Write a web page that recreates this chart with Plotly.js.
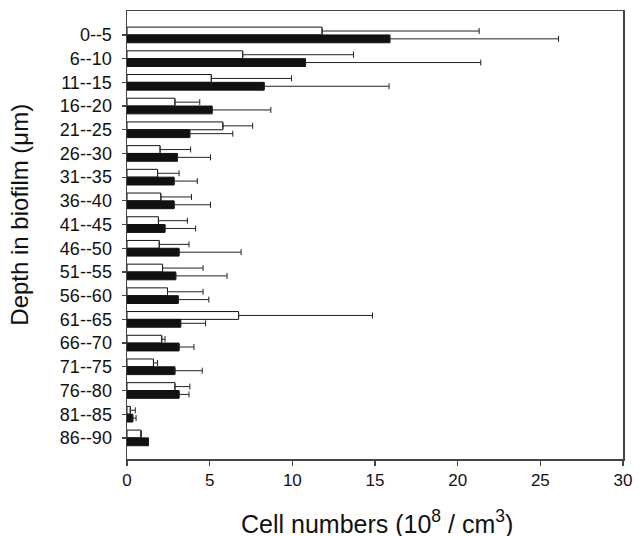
<!DOCTYPE html>
<html>
<head>
<meta charset="utf-8">
<script src="https://cdn.plot.ly/plotly-3.0.1.min.js"></script>
<style>html,body{margin:0;padding:0;background:#fff;}#chart{width:643px;height:536px;}</style>
</head>
<body>
<div id="chart"></div>
<script>
const categories = ["0--5","6--10","11--15","16--20","21--25","26--30","31--35","36--40","41--45","46--50","51--55","56--60","61--65","66--70","71--75","76--80","81--85","86--90"];
const whiteValues = [11.8, 7.0, 5.1, 2.9, 5.8, 2.0, 1.85, 2.05, 1.9, 1.95, 2.15, 2.45, 6.75, 2.1, 1.6, 2.9, 0.2, 0.85];
const whiteErrors = [9.5, 6.7, 4.85, 1.5, 1.8, 1.85, 1.3, 1.85, 1.75, 1.8, 2.45, 2.15, 8.1, 0.2, 0.25, 0.9, 0.3, 0];
const blackValues = [15.9, 10.8, 8.3, 5.15, 3.8, 3.05, 2.85, 2.85, 2.3, 3.15, 2.95, 3.1, 3.25, 3.15, 2.9, 3.15, 0.35, 1.3];
const blackErrors = [10.2, 10.6, 7.55, 3.55, 2.6, 2.0, 1.4, 2.2, 1.85, 3.75, 3.1, 1.85, 1.5, 0.9, 1.65, 0.6, 0.2, 0];
const xTicks = [0, 5, 10, 15, 20, 25, 30];
const xTitle = 'Cell numbers (10<sup>8</sup> / cm<sup>3</sup>)';
const yTitle = 'Depth in biofilm (μm)';

const ypos = categories.map((_, i) => i);
const zeros = categories.map(() => 0);

const traces = [
  {
    type: 'bar', orientation: 'h', y: ypos, x: whiteValues,
    marker: {color: '#ffffff', line: {color: '#111', width: 1}},
    error_x: {type: 'data', symmetric: false, array: whiteErrors, arrayminus: zeros, color: '#222', thickness: 1, width: 3},
    hoverinfo: 'x'
  },
  {
    type: 'bar', orientation: 'h', y: ypos, x: blackValues,
    marker: {color: '#111111', line: {color: '#111', width: 1}},
    error_x: {type: 'data', symmetric: false, array: blackErrors, arrayminus: zeros, color: '#222', thickness: 1, width: 3},
    hoverinfo: 'x'
  }
];

const layout = {
  width: 643, height: 536,
  margin: {l: 127, r: 20, t: 11, b: 77},
  paper_bgcolor: '#fff', plot_bgcolor: '#fff',
  showlegend: false,
  barmode: 'group', bargap: 0.34, bargroupgap: 0,
  font: {family: 'Liberation Sans, Arial, sans-serif', color: '#111'},
  xaxis: {
    range: [0, 30], tickvals: xTicks, ticktext: xTicks.map(String),
    showgrid: false, zeroline: false,
    showline: true, linecolor: '#444', linewidth: 1.5, mirror: true,
    ticks: 'outside', ticklen: 5, tickwidth: 1.2, tickcolor: '#444',
    tickfont: {size: 17, color: '#111'},
    fixedrange: true
  },
  yaxis: {
    range: [17.89, -1.01], tickvals: ypos, ticktext: categories,
    showgrid: false, zeroline: false,
    showline: true, linecolor: '#444', linewidth: 1.5, mirror: true,
    ticks: 'outside', ticklen: 4, tickwidth: 1.2, tickcolor: '#444',
    ticklabelstandoff: 6,
    tickfont: {size: 18, color: '#111'},
    fixedrange: true
  },
  annotations: [
    {
      text: xTitle, xref: 'paper', yref: 'paper',
      x: 0.505, y: -0.14, xanchor: 'center', yanchor: 'middle',
      showarrow: false, font: {size: 25, color: '#111'}
    },
    {
      text: yTitle, xref: 'paper', yref: 'paper', textangle: -90,
      x: -0.216, y: 0.545, xanchor: 'center', yanchor: 'middle',
      showarrow: false, font: {size: 24, color: '#111'}
    }
  ]
};

Plotly.newPlot('chart', traces, layout, {displayModeBar: false, staticPlot: true});
</script>
</body>
</html>
